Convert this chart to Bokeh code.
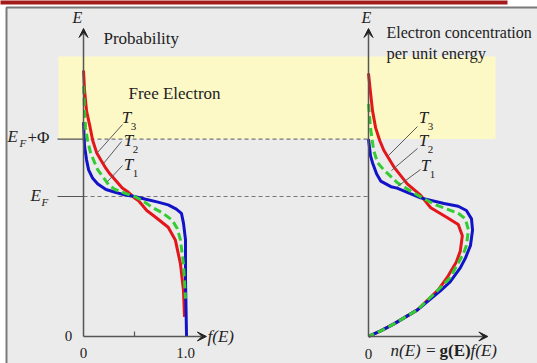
from bokeh.plotting import figure
from bokeh.models import Range1d, Label, Arrow, VeeHead
from bokeh.embed import file_html
from bokeh.resources import INLINE

W, H = 537, 363

# Energy scale (E_F = 1)
E_F = 1.0
PHI = 0.41
E_BAND_TOP = 2.0          # top of the free-electron shading
E_AXIS_TOP = 2.2          # tip of the energy axes

# Fermi-Dirac occupation f(E) for T1 < T2 < T3
f_T1 = [0.00, 0.01, 0.03, 0.05, 0.09, 0.14, 0.22, 0.31, 0.41, 0.50, 0.61, 0.73, 0.83, 0.91, 0.96, 0.98, 1.00, 1.00, 1.01]
E_f_T1 = [1.53, 1.36, 1.26, 1.19, 1.13, 1.09, 1.05, 1.03, 1.01, 1.00, 0.98, 0.96, 0.94, 0.91, 0.88, 0.81, 0.69, 0.40, 0.00]

f_T2 = [0.00, 0.01, 0.02, 0.04, 0.07, 0.11, 0.14, 0.19, 0.25, 0.31, 0.38, 0.50, 0.58, 0.68, 0.78, 0.87, 0.92, 0.95, 0.98, 1.00]
E_f_T2 = [1.79, 1.61, 1.49, 1.40, 1.31, 1.24, 1.19, 1.14, 1.08, 1.05, 1.03, 1.00, 0.97, 0.92, 0.88, 0.83, 0.77, 0.69, 0.52, 0.27]

f_T3 = [0.00, 0.01, 0.03, 0.06, 0.09, 0.13, 0.17, 0.22, 0.26, 0.32, 0.38, 0.44, 0.50, 0.54, 0.62, 0.71, 0.83, 0.90, 0.95, 0.98, 0.99]
E_f_T3 = [1.90, 1.76, 1.61, 1.51, 1.40, 1.31, 1.26, 1.20, 1.16, 1.11, 1.06, 1.03, 0.99, 0.97, 0.90, 0.85, 0.78, 0.69, 0.52, 0.33, 0.14]

# Electron concentration per unit energy n(E) = g(E) f(E)
n_T1 = [0.00, 0.02, 0.04, 0.08, 0.12, 0.22, 0.28, 0.41, 0.51, 0.74, 0.88, 0.96, 1.01, 1.02, 1.00, 0.95, 0.90, 0.80, 0.71, 0.48, 0.25, 0.12, 0.00]
E_n_T1 = [1.41, 1.29, 1.24, 1.16, 1.11, 1.07, 1.06, 1.02, 0.99, 0.95, 0.93, 0.90, 0.84, 0.76, 0.65, 0.56, 0.49, 0.39, 0.33, 0.19, 0.09, 0.04, 0.00]

n_T2 = [0.00, 0.02, 0.05, 0.09, 0.15, 0.28, 0.41, 0.53, 0.66, 0.77, 0.88, 0.95, 0.98, 0.96, 0.93, 0.80, 0.68, 0.48, 0.25, 0.12, 0.00]
E_n_T2 = [1.66, 1.49, 1.33, 1.24, 1.19, 1.10, 1.04, 0.99, 0.94, 0.91, 0.88, 0.84, 0.76, 0.65, 0.59, 0.42, 0.33, 0.19, 0.09, 0.04, 0.00]

n_T3 = [0.00, 0.02, 0.04, 0.07, 0.11, 0.15, 0.25, 0.38, 0.51, 0.61, 0.77, 0.88, 0.92, 0.90, 0.86, 0.77, 0.68, 0.48, 0.25, 0.12, 0.00]
E_n_T3 = [1.88, 1.74, 1.61, 1.49, 1.40, 1.33, 1.21, 1.09, 1.01, 0.92, 0.85, 0.80, 0.72, 0.61, 0.53, 0.42, 0.33, 0.19, 0.09, 0.04, 0.00]

F_TICKS = [0.0, 1.0]
F_TICK_LABELS = ["0", "1.0"]

# horizontal offset of the n(E) panel origin, in the same units as f
N_ORIGIN = 2.794

# view ranges
X_LO, X_HI = -0.814, 4.451
Y_LO, Y_HI = -0.193, 2.400

RED = "#e3161b"
GREEN = "#33cc33"
BLUE = "#1212c8"
AXIS = "#555555"
INK = "#222222"
SERIF = "Liberation Serif"


def dx(px):
    return X_LO + px / W * (X_HI - X_LO)


def dy(py):
    return Y_HI - py / H * (Y_HI - Y_LO)


p = figure(width=W, height=H, x_range=Range1d(X_LO, X_HI), y_range=Range1d(Y_LO, Y_HI),
           x_axis_type=None, y_axis_type=None, toolbar_location=None,
           output_backend="svg", min_border=0, outline_line_color=None,
           background_fill_color="white", border_fill_color="white")

# slide frame: grey panel, border and red title bar
p.quad(left=[dx(6)], right=[dx(W + 5)], bottom=[dy(H + 5)], top=[dy(7)],
       fill_color="#ebebeb", line_color="#7a7a7a", line_width=2)
p.quad(left=[dx(-2)], right=[dx(507)], bottom=[dy(4)], top=[dy(-2)],
       fill_color="#a31a1a", line_color=None)

# free-electron region above the vacuum level
p.quad(left=[dx(58)], right=[dx(495)], bottom=[E_F + PHI], top=[E_BAND_TOP],
       fill_color="#fdf9c6", line_color=None)

# energy levels
for lev in (E_F, E_F + PHI):
    p.line([dx(57), 0], [lev, lev], line_color=AXIS, line_width=1.2)
    p.line([0, N_ORIGIN], [lev, lev], line_color="#777777", line_width=1.2, line_dash="4 3")

# axes with arrow heads
for x0, x_tip in ((0.0, 1.205), (N_ORIGIN, N_ORIGIN + 1.17)):
    p.add_layout(Arrow(end=VeeHead(size=9, line_color="#222222", fill_color="#222222", line_width=1),
                       x_start=x0, y_start=0, x_end=x0, y_end=E_AXIS_TOP,
                       line_color=AXIS, line_width=1.5))
    p.add_layout(Arrow(end=VeeHead(size=9, line_color="#222222", fill_color="#222222", line_width=1),
                       x_start=x0, y_start=0, x_end=x_tip, y_end=0,
                       line_color=AXIS, line_width=1.5))
p.line([0.5, 0.5], [0, 0.035], line_color=AXIS, line_width=1.2)

# f(E) curves
p.line(f_T3, E_f_T3, line_color=RED, line_width=3)
p.line(f_T1, E_f_T1, line_color=BLUE, line_width=3)
p.line(f_T2, E_f_T2, line_color=GREEN, line_width=3, line_dash="8 4")

# n(E) curves
p.line([N_ORIGIN + v for v in n_T3], E_n_T3, line_color=RED, line_width=3)
p.line([N_ORIGIN + v for v in n_T1], E_n_T1, line_color=BLUE, line_width=3)
p.line([N_ORIGIN + v for v in n_T2], E_n_T2, line_color=GREEN, line_width=3, line_dash="8 4")


def label(x, y, text, size=17, style="normal", align="left", font=SERIF, color=INK):
    p.add_layout(Label(x=x, y=y, text=text, text_font=font, text_font_size=f"{size}px",
                       text_font_style=style, text_align=align, text_baseline="middle",
                       text_color=color))


# temperature tags with leader lines
tags = [
    # (leader start px, leader end px, T centre px, subscript)
    ((97, 152), (122, 124), (126, 117), "3"),
    ((103, 163), (121, 141), (128, 140), "2"),
    ((107, 181), (122, 165), (128, 164), "1"),
    ((388, 155), (417, 126), (423, 117), "3"),
    ((391, 170), (417, 148), (423, 140), "2"),
    ((397, 186), (420, 169), (425, 165), "1"),
]
for (sx, sy), (ex, ey), (tx, ty), sub in tags:
    p.line([dx(sx), dx(ex)], [dy(sy), dy(ey)], line_color="#5a5a5a", line_width=1)
    label(dx(tx), dy(ty), "T", size=17, style="italic", align="center")
    label(dx(tx + 7), dy(ty + 9), sub, size=11, align="center")

# axis titles
label(dx(77), dy(17), "E", size=16, style="italic", align="center")
label(dx(366), dy(17), "E", size=16, style="italic", align="center")
label(dx(103), dy(38), "Probability")
label(dx(128), dy(93), "Free Electron")
label(dx(386), dy(32), "Electron concentration", size=16)
label(dx(386), dy(53), "per unit energy", size=16.5)

# energy level names
label(dx(7), E_F + PHI + 0.02, "E", size=17, style="italic")
label(dx(19), E_F + PHI - 0.03, "F", size=11, style="italic")
label(dx(27), E_F + PHI + 0.01, "+Φ", size=17)
label(dx(30), E_F + 0.01, "E", size=17, style="italic")
label(dx(41), E_F - 0.04, "F", size=11, style="italic")

# ticks and horizontal axis names
label(dx(68), 0.0, "0", size=15, align="center")
for t, s in zip(F_TICKS, F_TICK_LABELS):
    label(t, dy(352), s, size=15, align="center")
label(N_ORIGIN, dy(353), "0", size=15, align="center")
label(dx(207), 0.0, "f(E)", size=17, style="italic")
label(dx(390), dy(350), "n(E) =", size=17, style="italic")
label(dx(439), dy(350), "g(E)", size=17, style="bold")
label(dx(470), dy(350), "f(E)", size=17, style="italic")

open("out.html", "w").write(file_html(p, INLINE))
